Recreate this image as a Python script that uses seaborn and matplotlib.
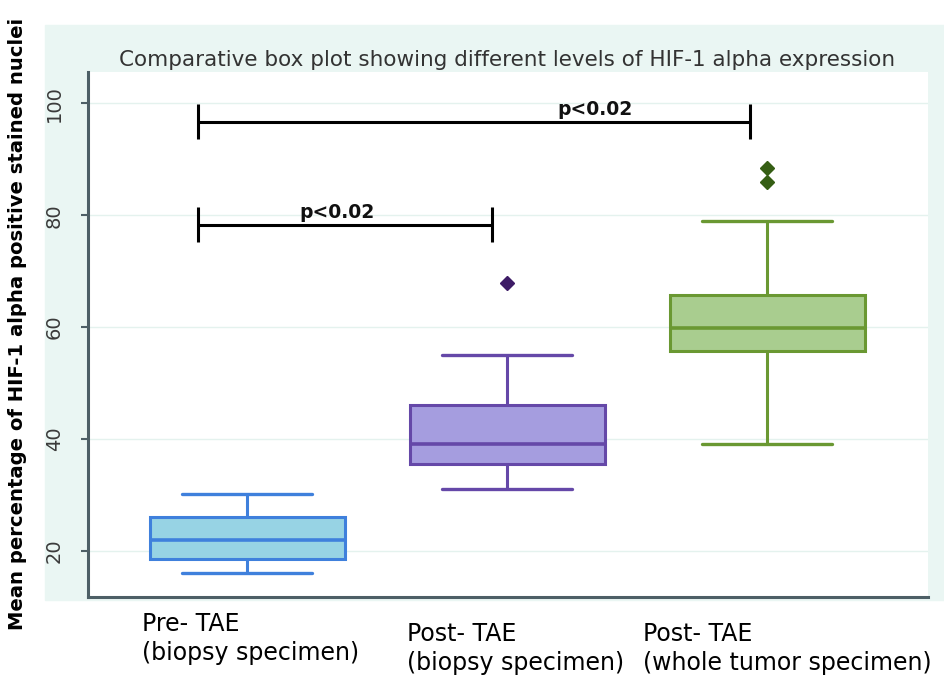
import numpy as np
import pandas as pd
import matplotlib
matplotlib.use("Agg")
import matplotlib.pyplot as plt
import matplotlib.transforms as mtransforms
from matplotlib.patches import Rectangle
import seaborn as sns

# ---------------- data ----------------
groups = ["Pre- TAE\n(biopsy specimen)",
          "Post- TAE\n(biopsy specimen)",
          "Post- TAE\n(whole tumor specimen)"]
whisker_low = [16.0, 31.0, 39.1]
q1 = [18.5, 35.5, 55.7]
median = [22.0, 39.2, 59.9]
q3 = [26.0, 46.1, 65.7]
whisker_high = [30.1, 55.1, 79.0]
outliers = [[], [67.9], [86.0, 88.4]]

fill_colors = ["#97d3e4", "#a59ddf", "#a9cd8f"]
edge_colors = ["#3f80dc", "#6548a8", "#6a9832"]
outlier_colors = ["#3f80dc", "#3d1c66", "#355e14"]

yticks = [20, 40, 60, 80, 100]
title = "Comparative box plot showing different levels of HIF-1 alpha expression"
ylabel = "Mean percentage of HIF-1 alpha positive stained nuclei"

bracket_left = [-0.187, -0.187]
bracket_right = [1.935, 0.942]
bracket_y = [96.7, 78.3]
p_labels = ["p<0.02", "p<0.02"]
p_label_x = [1.338, 0.346]

# long-form table built from the summary values (repeats make quartiles exact)
rows = []
for g, lo, a, m, b, hi, outs in zip(groups, whisker_low, q1, median, q3,
                                    whisker_high, outliers):
    vals = [lo] + [a] * 4 + [m] * 4 + [b] * 4 + [hi] + list(outs)
    rows += [(g, v) for v in vals]
df = pd.DataFrame(rows, columns=["group", "value"])

# ---------------- figure ----------------
sns.set_theme(style="white")
plt.rcParams["font.family"] = ["DejaVu Sans"]

W, H = 944, 679
fig = plt.figure(figsize=(W / 100, H / 100), dpi=100)
bg = Rectangle((45 / W, 1 - 600 / H), (W - 45) / W, (600 - 25) / H,
               transform=fig.transFigure, color="#eaf6f3", zorder=-10)
fig.patches.append(bg)

ax = fig.add_axes([87.7 / W, 82 / H, (928 - 87.7) / W, (597 - 72) / H])
ax.set_zorder(1)
ax.set_facecolor("white")

for g, fc, ec, oc in zip(groups, fill_colors, edge_colors, outlier_colors):
    sns.boxplot(data=df[df["group"] == g], x="group", y="value", order=groups,
                color=fc, linecolor=ec, linewidth=2.2, width=0.75, whis=1.7,
                saturation=1, ax=ax, capwidths=0.5,
                flierprops=dict(marker="D", markerfacecolor=oc,
                                markeredgecolor=oc, markersize=7),
                medianprops=dict(color=ec, linewidth=2.6),
                whiskerprops=dict(color=ec, linewidth=2.2),
                capprops=dict(color=ec, linewidth=2.4))

ax.set_xlim(-0.613, 2.619)
ax.set_ylim(11.77, 105.6)
ax.set_xlabel("")
ax.set_ylabel("")

for y in yticks:
    ax.axhline(y, color="#e4f2ee", lw=1, zorder=0)

for s in ["top", "right"]:
    ax.spines[s].set_visible(False)
for s in ["left", "bottom"]:
    ax.spines[s].set_color("#4d5f66")
    ax.spines[s].set_linewidth(2.2)

ax.set_yticks(yticks)
ax.set_yticklabels([str(t) for t in yticks], rotation=90, va="center",
                   color="#3a3a3a", fontsize=14)
ax.tick_params(axis="y", length=5, width=1.5, color="#4d5f66", pad=12, left=True)

ax.set_xticks(range(len(groups)))
ax.set_xticklabels(groups, fontsize=17, color="black", multialignment="left",
                   linespacing=1.25)
ax.tick_params(axis="x", length=0, pad=11)
shifts = [(3, 0), (8, -10), (20, -10)]
for lab, (dx, dy) in zip(ax.get_xticklabels(), shifts):
    lab.set_transform(lab.get_transform() +
                      mtransforms.ScaledTranslation(dx / 100, dy / 100, fig.dpi_scale_trans))

# significance brackets
ax.hlines(bracket_y, bracket_left, bracket_right, color="black", lw=2.2, zorder=5)
for yl, xl, xr in zip(bracket_y, bracket_left, bracket_right):
    ax.vlines([xl, xr], yl - 3.1, yl + 3.1, color="black", lw=2.2, zorder=5)
for yl, xt, t in zip(bracket_y, p_label_x, p_labels):
    ax.text(xt, yl + 1.2, t, ha="center", va="baseline", fontsize=13.5,
            fontweight="bold", color="#111111", zorder=6)

fig.text(507 / W, 1 - 60 / H, title, ha="center", va="center", fontsize=15.5,
         color="#333333")
fig.text(18 / W, 1 - 630 / H, ylabel, rotation=90, ha="center", va="bottom",
         fontsize=14.1, fontweight="bold", color="black")

fig.savefig("out.png", dpi=100)
